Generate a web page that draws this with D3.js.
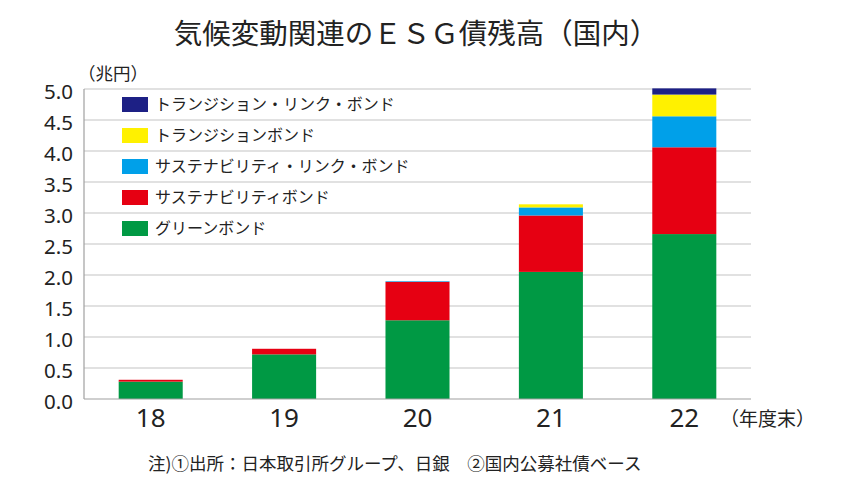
<!DOCTYPE html>
<html><head><meta charset="utf-8">
<script src="https://cdn.jsdelivr.net/npm/d3@7"></script>
<style>
html,body{margin:0;padding:0;background:#fff;}
text{font-family:"Noto Sans CJK JP","Noto Sans",sans-serif;fill:#222;}
</style></head>
<body><svg id="c" width="850" height="496"></svg>
<script>
const years = ["18","19","20","21","22"];
const seriesNames = ["グリーンボンド","サステナビリティボンド","サステナビリティ・リンク・ボンド","トランジションボンド","トランジション・リンク・ボンド"];
const seriesColors = ["#009944","#e60012","#00a0e9","#fff100","#1d2085"];
const green = [0.28,0.72,1.27,2.05,2.66];
const sustainability = [0.03,0.09,0.62,0.91,1.40];
const sustainLink = [0.00,0.00,0.01,0.13,0.50];
const transition = [0.00,0.00,0.00,0.05,0.35];
const transitionLink = [0.00,0.00,0.00,0.00,0.10];
const yTicks = [0,0.5,1,1.5,2,2.5,3,3.5,4,4.5,5];

const rows = years.map((y,i)=>({year:y, s0:green[i], s1:sustainability[i], s2:sustainLink[i], s3:transition[i], s4:transitionLink[i]}));
const keys = ["s0","s1","s2","s3","s4"];

const svg = d3.select("#c");
const m = {l:84, r:751, t:89, b:399};
const x = d3.scaleBand().domain(years).range([m.l,m.r]).paddingInner(0.52).paddingOuter(0.26);
const y = d3.scaleLinear().domain([0,5]).range([m.b,m.t]);

// gridlines
svg.append("g").selectAll("line").data(yTicks.filter(d=>d>0)).join("line")
  .attr("x1",m.l).attr("x2",m.r).attr("y1",d=>y(d)).attr("y2",d=>y(d))
  .attr("stroke","#c4c4c4").attr("stroke-width",1.2);

// bars
const stack = d3.stack().keys(keys)(rows);
svg.append("g").selectAll("g").data(stack).join("g")
  .attr("fill",(d,i)=>seriesColors[i])
  .selectAll("rect").data(d=>d).join("rect")
  .attr("x",d=>x(d.data.year)).attr("width",x.bandwidth())
  .attr("y",d=>y(d[1])).attr("height",d=>Math.max(0,y(d[0])-y(d[1])));

// axes lines
svg.append("line").attr("x1",m.l).attr("x2",m.l).attr("y1",m.t).attr("y2",m.b).attr("stroke","#a0a0a0").attr("stroke-width",1.2);
svg.append("line").attr("x1",m.l).attr("x2",m.r).attr("y1",m.b).attr("y2",m.b).attr("stroke","#a0a0a0").attr("stroke-width",1.2);

// y tick labels
svg.append("g").selectAll("text").data(yTicks).join("text")
  .attr("x",m.l-11).attr("y",d=>y(d)).attr("dy","0.5em").attr("text-anchor","end")
  .style("font-family","'Noto Sans',sans-serif").style("font-size","20.5px")
  .text(d=>d3.format(".1f")(d));

// x labels
svg.append("g").selectAll("text").data(years).join("text")
  .attr("x",d=>x(d)+x.bandwidth()/2).attr("y",427).attr("text-anchor","middle")
  .style("font-family","'Noto Sans',sans-serif").style("font-size","26px")
  .text(d=>d);

// units
svg.append("text").attr("x",78).attr("y",80).style("font-size","17.5px").text("（兆円）");
svg.append("text").attr("x",720).attr("y",426).style("font-size","19px").text("（年度末）");

// title
svg.append("text").attr("x",416).attr("y",44).attr("text-anchor","middle").style("font-size","28.5px").text("気候変動関連のＥＳＧ債残高（国内）");

// legend (top to bottom: reversed order)
const legendOrder = [4,3,2,1,0];
const lg = svg.append("g").selectAll("g").data(legendOrder).join("g")
  .attr("transform",(d,i)=>`translate(122,${(y(5-0.5*i)+y(4.5-0.5*i))/2})`);
lg.append("rect").attr("x",0).attr("y",-7.5).attr("width",26).attr("height",15).attr("fill",d=>seriesColors[d]);
lg.append("text").attr("x",33).attr("dy","0.36em").style("font-size","16px").text(d=>seriesNames[d]);

// footnote
svg.append("text").attr("x",148).attr("y",470).style("font-size","17.5px").text("注)①出所：日本取引所グループ、日銀　②国内公募社債ベース");
</script></body></html>
